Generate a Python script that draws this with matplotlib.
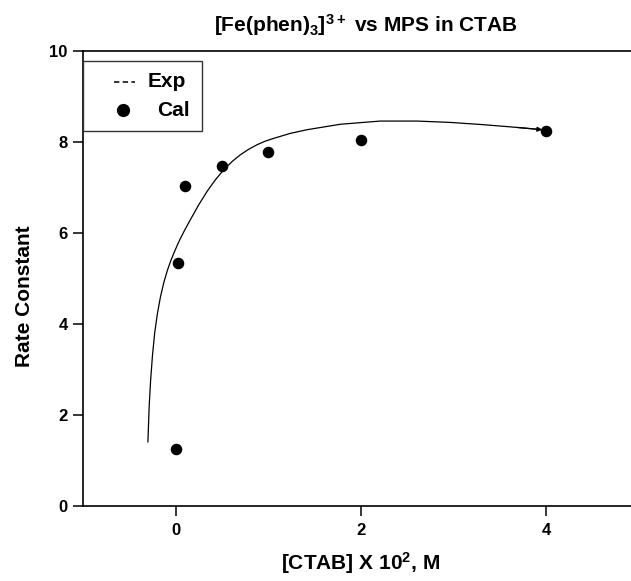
import matplotlib
matplotlib.use("Agg")
import matplotlib.pyplot as plt
from matplotlib.lines import Line2D
from matplotlib.patches import Rectangle

plt.rcParams['font.family'] = ['Liberation Sans', 'DejaVu Sans']
plt.rcParams['font.weight'] = 'bold'
plt.rcParams['mathtext.fontset'] = 'custom'
plt.rcParams['mathtext.rm'] = 'Liberation Sans:bold'
plt.rcParams['mathtext.bf'] = 'Liberation Sans:bold'
plt.rcParams['mathtext.default'] = 'bf'

# Measured rate constants (Cal)
ctab_conc = [0.0, 0.03, 0.1, 0.5, 1.0, 2.0, 4.0]
rate_const = [1.25, 5.35, 7.03, 7.47, 7.77, 8.05, 8.25]

# Fitted curve (Exp)
fit_x = [-0.299, -0.285, -0.270, -0.250, -0.226, -0.197, -0.163, -0.126,
         -0.090, -0.054, -0.018, 0.018, 0.05, 0.10, 0.162, 0.25, 0.342,
         0.43, 0.521, 0.61, 0.70, 0.79, 0.88, 0.97, 1.06, 1.24, 1.42, 1.78,
         2.21, 2.61, 2.97, 3.33, 3.69, 3.96]
fit_y = [1.41, 2.20, 2.75, 3.30, 3.80, 4.22, 4.60, 4.92,
         5.17, 5.38, 5.56, 5.73, 5.87, 6.07, 6.30, 6.62, 6.92,
         7.17, 7.39, 7.57, 7.72, 7.84, 7.94, 8.02, 8.08, 8.19, 8.27, 8.39,
         8.46, 8.46, 8.43, 8.38, 8.32, 8.27]

x_ticks = [0, 2, 4]
y_ticks = [0, 2, 4, 6, 8, 10]
legend_labels = ['Exp', 'Cal']

W, H = 631, 581
fig = plt.figure(figsize=(W / 100, H / 100), dpi=100)
ax = fig.add_axes([83 / W, 75 / H, 555.5 / W, 455 / H])

ax.plot(fit_x, fit_y, color='black', lw=0.9)
ax.annotate('', xy=(fit_x[-1], fit_y[-1]), xytext=(fit_x[-2], fit_y[-2]),
            arrowprops=dict(arrowstyle='-|>', color='black', lw=0.9,
                            mutation_scale=7, shrinkA=0, shrinkB=0))
ax.plot(ctab_conc, rate_const, 'o', color='black', ms=7.3, ls='none')

ax.set_xlim(-1, 5)
ax.set_ylim(0, 10)
ax.set_xticks(x_ticks)
ax.set_yticks(y_ticks)
ax.tick_params(direction='out', length=7, width=1.1, labelsize=12)
ax.tick_params(axis='y', pad=4)
ax.tick_params(axis='x', pad=5)
for lab in ax.get_xticklabels() + ax.get_yticklabels():
    lab.set_fontweight('bold')
for s in ax.spines.values():
    s.set_linewidth(1.2)
ax.spines['right'].set_visible(False)

ax.set_xlabel(r'[CTAB] X 10$^{2}$, M', fontsize=15, fontweight='bold', va='center')
ax.xaxis.set_label_coords(0.5, -0.125)
ax.set_ylabel('Rate Constant', fontsize=15, fontweight='bold', va='center')
ax.yaxis.set_label_coords(-0.106, 0.4615)

fig.text(366 / W, 1 - 32 / H,
         r'[Fe(phen)$_{3}$]$^{3+}$ vs MPS in CTAB',
         ha='center', va='baseline', fontsize=15, fontweight='bold')

# Legend box drawn in axes coordinates
ax.add_patch(Rectangle((0.0, 0.824), 0.214, 0.154, transform=ax.transAxes,
                       facecolor='white', edgecolor='#333333', lw=1.0,
                       zorder=5, clip_on=False))
ax.add_line(Line2D([0.0558, 0.0936], [0.932, 0.932], transform=ax.transAxes,
                   color='black', lw=1.1, ls=(0, (3.5, 2.2)), zorder=6))
ax.add_line(Line2D([0.072], [0.870], transform=ax.transAxes, color='black',
                   marker='o', ms=8.5, ls='none', zorder=6))
ax.text(0.117, 0.932, legend_labels[0], transform=ax.transAxes, fontsize=15,
        fontweight='bold', va='center', ha='left', zorder=6)
ax.text(0.133, 0.870, legend_labels[1], transform=ax.transAxes, fontsize=15,
        fontweight='bold', va='center', ha='left', zorder=6)

fig.savefig('out.png', dpi=100)
